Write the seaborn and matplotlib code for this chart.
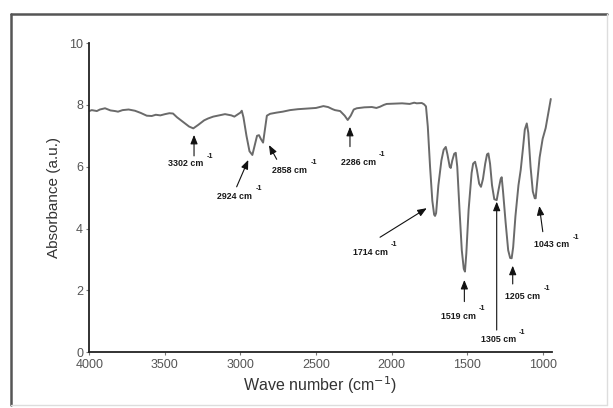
import matplotlib
matplotlib.use("Agg")
import matplotlib.pyplot as plt
import seaborn as sns
import pandas as pd
from matplotlib.lines import Line2D

# ---- data ----
wavenumber = [4000, 3984, 3950, 3930, 3896, 3860, 3830, 3810, 3780, 3740, 3698, 3660, 3620, 3587,
              3560, 3530, 3499, 3470, 3446, 3420, 3380, 3340, 3312, 3280, 3240, 3214, 3180, 3140,
              3102, 3060, 3040, 3025, 3000, 2991, 2980, 2960, 2940, 2921, 2905, 2890, 2877, 2865,
              2850, 2838, 2825, 2804, 2760, 2720, 2672, 2620, 2560, 2500, 2451, 2420, 2390, 2374,
              2340, 2310, 2290, 2270, 2250, 2230, 2180, 2130, 2100, 2076, 2050, 2032, 1980, 1930,
              1880, 1850, 1833, 1800, 1785, 1772, 1760, 1745, 1730, 1718, 1712, 1705, 1690, 1670,
              1655, 1641, 1630, 1615, 1608, 1598, 1585, 1575, 1565, 1550, 1535, 1522, 1514, 1505,
              1490, 1470, 1460, 1447, 1435, 1420, 1408, 1395, 1380, 1368, 1359, 1348, 1335, 1320,
              1304, 1290, 1278, 1271, 1262, 1245, 1228, 1215, 1205, 1195, 1180, 1160, 1145, 1130,
              1118, 1105, 1095, 1080, 1065, 1052, 1046, 1040, 1020, 1000, 980, 946]
absorbance = [7.80, 7.83, 7.80, 7.85, 7.89, 7.82, 7.80, 7.78, 7.83, 7.85, 7.81, 7.74, 7.65, 7.64,
              7.68, 7.66, 7.70, 7.73, 7.72, 7.60, 7.45, 7.30, 7.24, 7.35, 7.50, 7.56, 7.62, 7.66,
              7.70, 7.66, 7.62, 7.67, 7.75, 7.81, 7.60, 7.00, 6.50, 6.38, 6.70, 7.00, 7.02, 6.90,
              6.78, 7.20, 7.65, 7.71, 7.75, 7.78, 7.83, 7.86, 7.88, 7.90, 7.96, 7.93, 7.86, 7.83,
              7.80, 7.65, 7.51, 7.65, 7.85, 7.89, 7.92, 7.93, 7.90, 7.94, 8.00, 8.03, 8.04, 8.05,
              8.03, 8.07, 8.05, 8.06, 8.02, 7.95, 7.30, 6.00, 4.90, 4.45, 4.41, 4.50, 5.40, 6.20,
              6.55, 6.64, 6.40, 6.00, 5.96, 6.20, 6.42, 6.45, 6.00, 4.60, 3.30, 2.70, 2.61, 3.20,
              4.60, 5.80, 6.10, 6.16, 5.90, 5.45, 5.35, 5.60, 6.10, 6.40, 6.43, 6.10, 5.40, 4.95,
              4.92, 5.30, 5.60, 5.66, 5.20, 4.20, 3.30, 3.05, 3.04, 3.40, 4.40, 5.40, 5.90, 6.60,
              7.20, 7.40, 7.10, 6.00, 5.20, 4.98, 4.98, 5.30, 6.30, 6.90, 7.25, 8.19]

peak_labels = ["3302", "2924", "2858", "2286", "1714", "1519", "1305", "1205", "1043"]
x_ticks = [4000, 3500, 3000, 2500, 2000, 1500, 1000]
y_ticks = [0, 2, 4, 6, 8, 10]

# annotation layout: arrow head, arrow tail, label centre (data coordinates)
arrow_heads = [(3307, 7.03), (2948, 6.22), (2811, 6.70), (2275, 7.29), (1767, 4.66),
               (1518, 2.34), (1304, 4.87), (1198, 2.80), (1022, 4.73)]
arrow_tails = [(3307, 6.35), (3025, 5.35), (2760, 6.24), (2275, 6.65), (2076, 3.72),
               (1518, 1.64), (1304, 0.72), (1198, 2.21), (999, 3.90)]
label_pos = [(3360, 6.09), (3036, 5.05), (2672, 5.89), (2220, 6.14), (2142, 3.23),
             (1558, 1.17), (1293, 0.40), (1132, 1.82), (940, 3.47)]

df = pd.DataFrame({"Wave number": wavenumber, "Absorbance": absorbance})

sns.set_theme(style="ticks")
plt.rcParams["font.family"] = ["Liberation Sans", "DejaVu Sans"]

fig = plt.figure(figsize=(6.13, 4.08), dpi=100)
ax = fig.add_axes([0.1457, 0.1365, 0.9 - 0.1457, 0.8946 - 0.1365])

sns.lineplot(data=df, x="Wave number", y="Absorbance", sort=False, estimator=None,
             color="#6a6a6a", linewidth=1.4, ax=ax)

ax.set_xlim(4000, 940)
ax.set_ylim(0, 10)
ax.set_xticks(x_ticks)
ax.set_yticks(y_ticks)
ax.set_xticklabels([str(t) for t in x_ticks])
ax.set_yticklabels([str(t) for t in y_ticks])
for s in ["top", "right"]:
    ax.spines[s].set_visible(False)
for s in ["left", "bottom"]:
    ax.spines[s].set_color("#222222")
    ax.spines[s].set_linewidth(1.3)
ax.tick_params(axis="both", direction="out", length=2.5, width=0.8, color="#777777",
               labelsize=9, labelcolor="#555555", pad=2)
ax.set_xlabel("Wave number (cm$^{-1}$)", fontsize=11.5, color="#333333", labelpad=3)
ax.set_ylabel("Absorbance (a.u.)", fontsize=11, color="#333333", labelpad=6)

for lab, head, tail, lp in zip(peak_labels, arrow_heads, arrow_tails, label_pos):
    ax.annotate("", xy=head, xytext=tail,
                arrowprops=dict(arrowstyle="-|>,head_length=0.45,head_width=0.18",
                                color="#111111", lw=0.8, shrinkA=0, shrinkB=0),
                annotation_clip=False)
    ax.text(lp[0], lp[1], lab + " cm", ha="center", va="center", fontsize=6.4,
            fontweight="bold", color="#1a1a1a", clip_on=False)
    ax.annotate("-1", xy=lp, xycoords="data", xytext=(24, 7.5), textcoords="offset pixels",
                ha="center", va="center", fontsize=5.2, fontweight="bold", color="#1a1a1a",
                annotation_clip=False)

# outer frame
fig.add_artist(Line2D([0.0175, 0.0175], [0.0074, 0.9657], transform=fig.transFigure,
                      color="#555555", lw=1.8))
fig.add_artist(Line2D([0.0175, 0.990], [0.9657, 0.9657], transform=fig.transFigure,
                      color="#555555", lw=1.8))
fig.add_artist(Line2D([0.990, 0.990], [0.0074, 0.9657], transform=fig.transFigure,
                      color="#dddddd", lw=1.0))
fig.add_artist(Line2D([0.0175, 0.990], [0.0074, 0.0074], transform=fig.transFigure,
                      color="#dddddd", lw=1.0))

fig.savefig("out.png", dpi=100)
